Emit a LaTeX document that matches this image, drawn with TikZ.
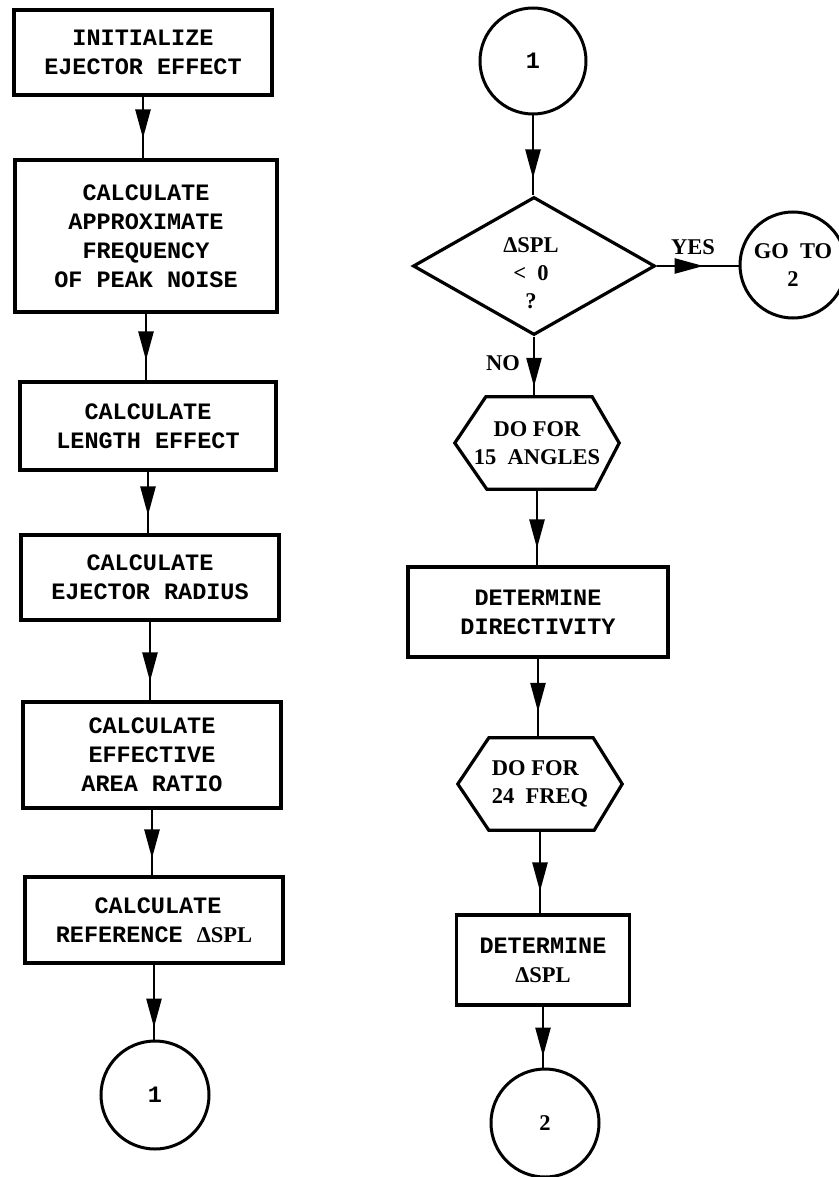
\documentclass[tikz,border=0pt]{standalone}
\usepackage{fontspec}
\setmainfont{Liberation Serif}
\setmonofont{Liberation Mono}
\usetikzlibrary{arrows.meta,shapes.geometric,decorations.markings}

\newcommand{\typeface}{\fontsize{23.5}{29}\selectfont\ttfamily\bfseries}
\newcommand{\printface}{\fontsize{22.5}{28}\selectfont\rmfamily\bfseries}
\newcommand{\dspl}{{\rmfamily\bfseries\fontsize{22.5}{28}\selectfont ΔSPL}}

\tikzset{
  procbox/.style={draw, line width=3.2pt, rectangle, align=center, font=\typeface, inner sep=0pt},
  hexcore/.style={rectangle, align=center, font=\printface, inner sep=0pt,
                  minimum width=164pt, minimum height=92pt},
  hexline/.style={draw, line width=3.2pt, line join=miter},
  connector/.style={draw, circle, line width=3pt, inner sep=0pt, align=center},
  decision/.style={draw, diamond, line width=3.2pt, inner sep=0pt, aspect=1.75},
  tag/.style={font=\printface, inner sep=0pt, align=center},
  flow/.style={line width=2.6pt, postaction={decorate},
    decoration={markings, mark=at position #1 with
      {\arrow{Triangle[length=29pt,width=15pt]}}}},
  flow/.default=-16pt
}

\begin{document}
\begin{tikzpicture}[x=1pt,y=-1pt]
\useasboundingbox (0,0) rectangle (838,1177);

% ---- left column: ejector setup ----
\node[procbox, minimum width=258pt, minimum height=85pt] (b1) at (143,52.5)
  {INITIALIZE\\EJECTOR EFFECT};
\node[procbox, minimum width=262pt, minimum height=152pt] (b2) at (146,236)
  {CALCULATE\\APPROXIMATE\\FREQUENCY\\OF PEAK NOISE};
\node[procbox, minimum width=256pt, minimum height=88pt] (b3) at (148,426)
  {CALCULATE\\LENGTH EFFECT};
\node[procbox, minimum width=258pt, minimum height=85pt] (b4) at (150,577.5)
  {CALCULATE\\EJECTOR RADIUS};
\node[procbox, minimum width=258pt, minimum height=106pt] (b5) at (152,755)
  {CALCULATE\\EFFECTIVE\\AREA RATIO};
\node[procbox, minimum width=258pt, minimum height=86pt] (b6) at (154,920)
  {\hspace*{8pt}CALCULATE\\REFERENCE \dspl};
\node[connector, minimum size=108pt, font=\typeface] (c1) at (155,1095) {1};

\draw[flow=-20pt] (b1.south) -- (b1.south |- b2.north);
\draw[flow=-20pt] (b2.south) -- (b2.south |- b3.north);
\draw[flow=-18pt] (b3.south) -- (b3.south |- b4.north);
\draw[flow=-19pt] (b4.south) -- (b4.south |- b5.north);
\draw[flow=-17pt] (b5.south) -- (b5.south |- b6.north);
\draw[flow=-12pt] (b6.south) -- (b6.south |- c1.north);

% ---- right column: directivity loop ----
\node[connector, minimum size=106pt, font=\typeface] (c2) at (533,61) {1};
\node[decision, minimum width=242pt, minimum height=138pt] (d) at (534,266) {};
\node[tag] (dq) at (531,273) {ΔSPL\\<\ \ 0\\?};
\node[connector, minimum size=106pt, font=\printface] (c3) at (793,265) {GO\ \ TO\\2};
\node[tag] (yes) at (693,247) {YES};
\node[tag] (no) at (503,363) {NO};

\node[hexcore] (h1) at (537,443) {DO FOR\\15\ \ ANGLES};
\draw[hexline] ([xshift=31pt]h1.north west) -- ([xshift=-27pt]h1.north east)
  -- (h1.east) -- ([xshift=-24pt]h1.south east) -- ([xshift=32pt]h1.south west)
  -- (h1.west) -- cycle;

\node[procbox, minimum width=260pt, minimum height=90pt] (r1) at (538,612)
  {DETERMINE\\DIRECTIVITY};

\node[hexcore, align=left] (h2) at (540,784) {DO FOR\\24\ \ FREQ};
\draw[hexline] ([xshift=31pt]h2.north west) -- ([xshift=-29pt]h2.north east)
  -- (h2.east) -- ([xshift=-28pt]h2.south east) -- ([xshift=31pt]h2.south west)
  -- (h2.west) -- cycle;

\node[procbox, minimum width=173pt, minimum height=90pt] (r2) at (543,960)
  {DETERMINE\\\dspl};
\node[connector, minimum size=108pt, font=\printface] (c4) at (545,1123) {2};

\draw[flow=-17pt] (c2.south) -- (c2.south |- d.north);
\draw[flow=-35pt] (d.east) -- (d.east -| c3.west);
\draw[flow=-10pt] (d.south) -- (d.south |- h1.north);
\draw[flow=-17pt] (h1.south) -- (h1.south |- r1.north);
\draw[flow=-26pt] (r1.south) -- (r1.south |- h2.north);
\draw[flow=-22pt] (h2.south) -- (h2.south |- r2.north);
\draw[flow=-11pt] (r2.south) -- (r2.south |- c4.north);
\end{tikzpicture}
\end{document}
